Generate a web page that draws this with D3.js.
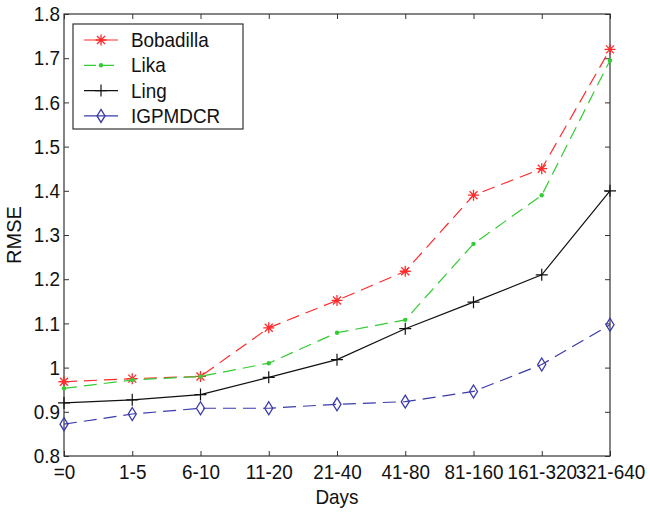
<html>
<head>
<style>
  body { margin: 0; background: #fff; }
  svg text { font-family: "Liberation Sans", Arial, sans-serif; }
  .narrow { transform: scaleX(0.9); transform-box: fill-box; transform-origin: center; }
  .narrow-l { transform: scaleX(0.9); transform-box: fill-box; transform-origin: left center; }
  .narrow-r { transform: scaleX(0.9); transform-box: fill-box; transform-origin: right center; }
</style>
</head>
<body>
<div id="chart"></div>
<script src="https://d3js.org/d3.v7.min.js"></script>
<script>
// data
var days = ["=0", "1-5", "6-10", "11-20", "21-40", "41-80", "81-160", "161-320", "321-640"];
var bobadilla = [0.968, 0.975, 0.98, 1.09, 1.152, 1.218, 1.39, 1.45, 1.72];
var lika = [0.953, 0.972, 0.98, 1.01, 1.079, 1.108, 1.28, 1.39, 1.695];
var ling = [0.92, 0.927, 0.939, 0.978, 1.018, 1.088, 1.148, 1.21, 1.40];
var igpmdcr = [0.872, 0.895, 0.908, 0.908, 0.917, 0.923, 0.946, 1.007, 1.097];
var yTicks = [0.8, 0.9, 1, 1.1, 1.2, 1.3, 1.4, 1.5, 1.6, 1.7, 1.8];

var series = [
  { name: "Bobadilla", values: bobadilla, color: "#ff2b2b", dash: "13,7", marker: "star" },
  { name: "Lika", values: lika, color: "#33cc33", dash: "13,7", marker: "dot" },
  { name: "Ling", values: ling, color: "#111", dash: null, marker: "plus" },
  { name: "IGPMDCR", values: igpmdcr, color: "#3a3aaa", dash: "13,7", marker: "diamond" }
];

var W = 650, H = 514;
var margin = { top: 14, right: 40, bottom: 58, left: 64 };
var width = W - margin.left - margin.right,
    height = H - margin.top - margin.bottom;

var svg = d3.select("#chart").append("svg")
  .attr("width", W).attr("height", H);
var g = svg.append("g")
  .attr("transform", "translate(" + margin.left + "," + margin.top + ")");

var x = d3.scalePoint().domain(days).range([0, width]);
var y = d3.scaleLinear().domain([0.8, 1.8]).range([height, 0]);

// inside ticks on all four sides, matlab style
var axisColor = "#333";
var xAxis = g.append("g").attr("transform", "translate(0," + height + ")")
  .call(d3.axisBottom(x).tickSize(-5).tickPadding(8))
  .call(function (a) { a.select(".domain").remove(); });
g.append("g")
  .call(d3.axisTop(x).tickSize(-5).tickFormat(""))
  .call(function (a) { a.select(".domain").remove(); });
var yAxis = g.append("g")
  .call(d3.axisLeft(y).tickValues(yTicks).tickSize(-5).tickPadding(4).tickFormat(d3.format("")))
  .call(function (a) { a.select(".domain").remove(); });
g.append("g").attr("transform", "translate(" + width + ",0)")
  .call(d3.axisRight(y).tickValues(yTicks).tickSize(-5).tickFormat(""))
  .call(function (a) { a.select(".domain").remove(); });

g.selectAll(".tick line").attr("stroke", axisColor);
g.selectAll(".tick text").attr("fill", "#111").style("font-size", "21px");
xAxis.selectAll(".tick text").attr("class", "narrow");
yAxis.selectAll(".tick text").attr("class", "narrow-r");

g.append("rect")
  .attr("width", width).attr("height", height)
  .attr("fill", "none").attr("stroke", axisColor).attr("stroke-width", 1.2);

// axis titles
svg.append("text")
  .attr("class", "narrow")
  .attr("x", margin.left + width / 2).attr("y", H - 10)
  .attr("text-anchor", "middle").style("font-size", "21px").attr("fill", "#111")
  .text("Days");
svg.append("text")
  .attr("transform", "translate(21," + (margin.top + height / 2) + ") rotate(-90)")
  .attr("text-anchor", "middle").style("font-size", "20px").attr("fill", "#111")
  .text("RMSE");

function drawMarker(sel, type, color) {
  if (type === "star") {
    sel.append("path").attr("d", "M-5.5,0H5.5M0,-5.5V5.5M-4,-4L4,4M-4,4L4,-4")
      .attr("stroke", color).attr("stroke-width", 1.3).attr("fill", "none");
  } else if (type === "dot") {
    sel.append("circle").attr("r", 2.2).attr("fill", color);
  } else if (type === "plus") {
    sel.append("path").attr("d", "M-6,0H6M0,-6V6")
      .attr("stroke", color).attr("stroke-width", 1.2).attr("fill", "none");
  } else if (type === "diamond") {
    sel.append("path").attr("d", "M0,-6.5L4,0L0,6.5L-4,0Z")
      .attr("stroke", color).attr("stroke-width", 1.3).attr("fill", "none");
  }
}

var line = d3.line()
  .x(function (d, i) { return x(days[i]); })
  .y(function (d) { return y(d); });

series.forEach(function (s) {
  g.append("path")
    .datum(s.values)
    .attr("d", line)
    .attr("fill", "none")
    .attr("stroke", s.color)
    .attr("stroke-width", 1.2)
    .attr("stroke-dasharray", s.dash);
  s.values.forEach(function (v, i) {
    var m = g.append("g").attr("transform", "translate(" + x(days[i]) + "," + y(v) + ")");
    drawMarker(m, s.marker, s.color);
  });
});

// legend
var legend = svg.append("g").attr("transform", "translate(73,24)");
legend.append("rect")
  .attr("width", 170).attr("height", 105)
  .attr("fill", "#fff").attr("stroke", axisColor).attr("stroke-width", 1.2);
series.forEach(function (s, i) {
  var yy = 16 + i * 25.3;
  legend.append("line")
    .attr("x1", 11).attr("x2", 45).attr("y1", yy).attr("y2", yy)
    .attr("stroke", s.color).attr("stroke-width", 1.2)
    .attr("stroke-dasharray", s.marker === "dot" ? "12,6" : null);
  var m = legend.append("g").attr("transform", "translate(28," + yy + ")");
  drawMarker(m, s.marker, s.color);
  legend.append("text")
    .attr("class", "narrow-l")
    .attr("x", 58).attr("y", yy + 7)
    .style("font-size", "21px").attr("fill", "#111")
    .text(s.name);
});
</script>
</body>
</html>
